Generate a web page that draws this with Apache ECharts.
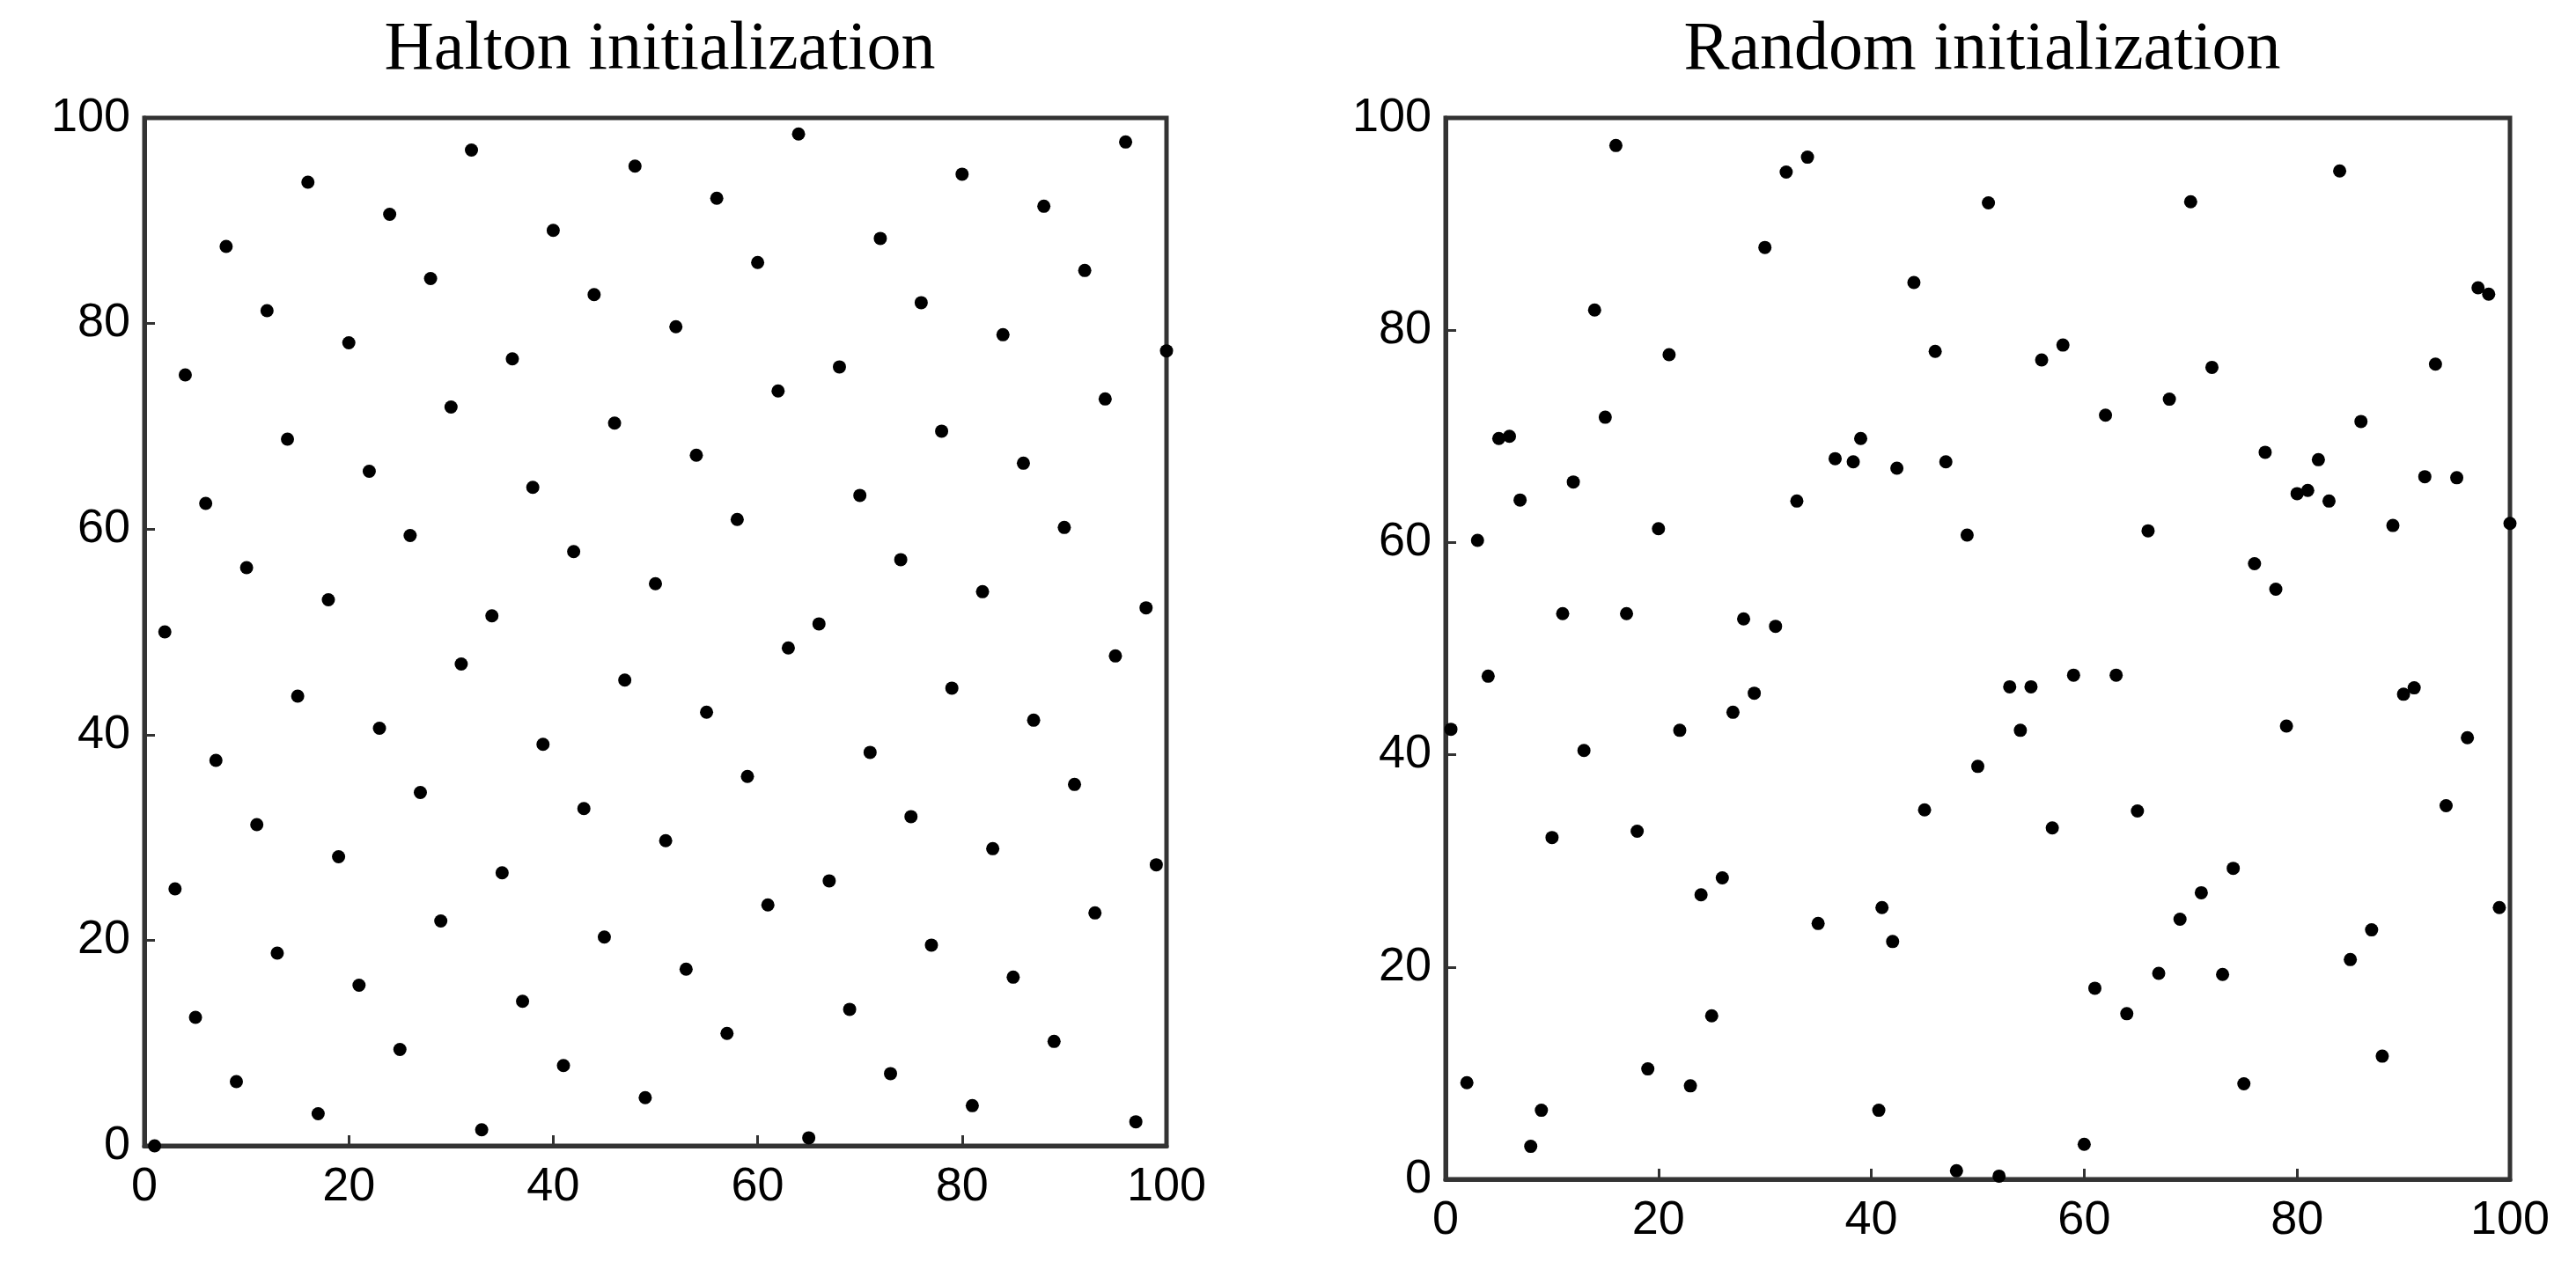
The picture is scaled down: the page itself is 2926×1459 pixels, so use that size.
<!DOCTYPE html>
<html><head><meta charset="utf-8">
<script src="https://cdn.jsdelivr.net/npm/echarts@6/dist/echarts.min.js"></script>
<style>html,body{margin:0;padding:0;background:#fff}#c{width:2926px;height:1459px}</style>
</head><body><div id="c"></div>
<script>
const haltonX = [1,2,3,4,5,6,7,8,9,10,11,12,13,14,15,16,17,18,19,20,21,22,23,24,25,26,27,28,29,30,31,32,33,34,35,36,37,38,39,40,41,42,43,44,45,46,47,48,49,50,51,52,53,54,55,56,57,58,59,60,61,62,63,64,65,66,67,68,69,70,71,72,73,74,75,76,77,78,79,80,81,82,83,84,85,86,87,88,89,90,91,92,93,94,95,96,97,98,99,100];
const haltonY = [0,50,25,75,12.5,62.5,37.5,87.5,6.25,56.25,31.25,81.25,18.75,68.75,43.75,93.75,3.13,53.13,28.13,78.13,15.63,65.63,40.63,90.63,9.38,59.38,34.38,84.38,21.88,71.88,46.88,96.88,1.56,51.56,26.56,76.56,14.06,64.06,39.06,89.06,7.81,57.81,32.81,82.81,20.31,70.31,45.31,95.31,4.69,54.69,29.69,79.69,17.19,67.19,42.19,92.19,10.94,60.94,35.94,85.94,23.44,73.44,48.44,98.44,0.78,50.78,25.78,75.78,13.28,63.28,38.28,88.28,7.03,57.03,32.03,82.03,19.53,69.53,44.53,94.53,3.91,53.91,28.91,78.91,16.41,66.41,41.41,91.41,10.16,60.16,35.16,85.16,22.66,72.66,47.66,97.66,2.34,52.34,27.34,77.34];
const randomX = [0.5,2,3,4,5,6,7,8,9,10,11,12,13,14,15,16,17,18,19,20,21,22,23,24,25,26,27,28,29,30,31,32,33,34,35,36.6,38.3,39,42.4,40.7,41,42,44,45,46,47,48,49,50,51,52,53,54,55,56,57,58,59,60,61,62,63,64,65,66,67,68,69,70,71,72,73,74,75,76,77,78,79,80,81,82,83,84,85,86,87,88,89,90,91,92,93,94,95,96,97,98,99,100];
const randomY = [42.4,9.1,60.2,47.4,69.8,70,64,3.1,6.5,32.2,53.3,65.7,40.4,81.9,71.8,97.4,53.3,32.8,10.4,61.3,77.7,42.3,8.8,26.8,15.4,28.4,44,52.8,45.8,87.8,52.1,94.9,63.9,96.3,24.1,67.9,67.6,69.8,67,6.5,25.6,22.4,84.5,34.8,78,67.6,0.8,60.7,38.9,92,0.3,46.4,42.3,46.4,77.2,33.1,78.6,47.5,3.3,18,72,47.5,15.6,34.7,61.1,19.4,73.5,24.5,92.1,27,76.5,19.3,29.3,9,58,68.5,55.6,42.7,64.6,64.9,67.8,63.9,95,20.7,71.4,23.5,11.6,61.6,45.7,46.3,66.2,76.8,35.2,66.1,41.6,84,83.4,25.6,61.8];
const ticks = [0,20,40,60,80,100];
const titles = ['Halton initialization','Random initialization'];

const chart = echarts.init(document.getElementById('c'));
const grids = [{left:164,top:134,width:1161,height:1168},{left:1642,top:134,width:1209,height:1206}]
  .map(g=>Object.assign(g,{show:true,borderColor:'#333',borderWidth:5,backgroundColor:'#fff'}));
function axis(kind, gi){
  return {gridIndex:gi,type:'value',min:0,max:100,interval:20,splitLine:{show:false},
    axisLine:{show:true,onZero:false,lineStyle:{color:'#333',width:5}},
    axisTick:{show:true,inside:true,length:12,lineStyle:{color:'#333',width:3}},
    axisLabel:{show:true,color:'#000',fontFamily:'Liberation Sans, Arial',fontSize:54,margin:kind==='x'?20:16,
      formatter:v=>ticks.includes(v)?String(v):''}};
}
chart.setOption({
  animation:false,
  backgroundColor:'#fff',
  title: titles.map((t,i)=>({text:t,left:(grids[i].left+grids[i].width/2),top:14,textAlign:'center',
    textStyle:{fontFamily:'Liberation Serif, Times New Roman',fontWeight:'normal',fontSize:78,color:'#000'}})),
  grid: grids,
  xAxis:[axis('x',0),axis('x',1)], yAxis:[axis('y',0),axis('y',1)],
  series:[
    {type:'scatter',xAxisIndex:0,yAxisIndex:0,data:haltonX.map((x,i)=>[x,haltonY[i]]),symbolSize:15,itemStyle:{color:'#000',opacity:1}},
    {type:'scatter',xAxisIndex:1,yAxisIndex:1,data:randomX.map((x,i)=>[x,randomY[i]]),symbolSize:15,itemStyle:{color:'#000',opacity:1}}
  ]
});
</script></body></html>
